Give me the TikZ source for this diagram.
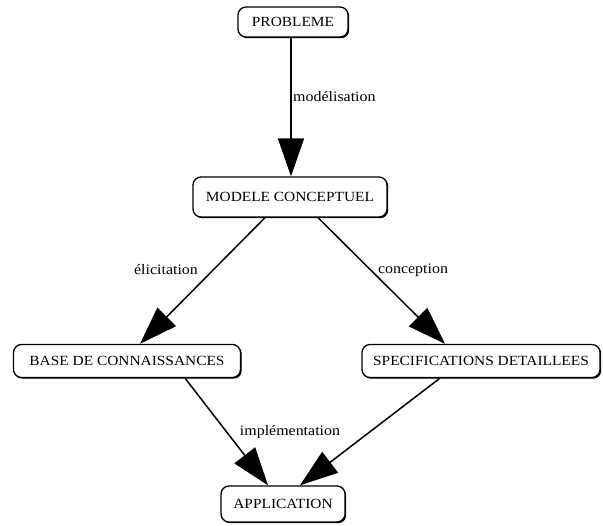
\documentclass[tikz,border=0pt]{standalone}
\usepackage{fontspec}
\setmainfont[FakeStretch=1.1]{Liberation Serif}
\usetikzlibrary{arrows.meta,shadows}
\begin{document}
\begin{tikzpicture}[x=1pt,y=-1pt,
  box/.style={draw, line width=1.3pt, rounded corners=8pt, fill=white,
    inner sep=0pt, font=\fontsize{14}{16}\selectfont,
    drop shadow={shadow xshift=1.2pt, shadow yshift=-1.2pt, fill=black, opacity=1}},
  arr/.style={line width=1.5pt, -{Triangle[length=38pt,width=26pt]}},
  lbl/.style={font=\fontsize{14.5}{16}\selectfont, inner sep=0pt}]
\useasboundingbox (0,0) rectangle (603,526);
\node[box, minimum width=110pt, minimum height=30pt] (pb) at (293,22) {PROBLEME};
\node[box, minimum width=194pt, minimum height=40pt] (mc) at (290,197) {MODELE CONCEPTUEL};
\node[box, minimum width=227pt, minimum height=33pt] (bc) at (127,361) {BASE DE CONNAISSANCES};
\node[box, minimum width=238pt, minimum height=33pt] (sd) at (481,361) {SPECIFICATIONS DETAILLEES};
\node[box, minimum width=124pt, minimum height=36pt] (ap) at (283,504) {APPLICATION};
\draw[arr] ([xshift=-2pt]pb.south) -- ([xshift=1pt]mc.north);
\draw[arr] ([xshift=-25pt]mc.south) -- ([xshift=13pt]bc.north);
\draw[arr] ([xshift=28pt]mc.south) -- ([xshift=-36pt]sd.north);
\draw[arr] ([xshift=58pt]bc.south) -- ([xshift=-15pt]ap.north);
\draw[arr] ([xshift=-41pt]sd.south) -- ([xshift=17pt]ap.north);
\node[lbl, anchor=west] (l1) at (293,97) {modélisation};
\node[lbl] (l2) at (166,270) {élicitation};
\node[lbl] (l3) at (413,270) {conception};
\node[lbl] (l4) at (290,432) {implémentation};
\end{tikzpicture}
\end{document}
